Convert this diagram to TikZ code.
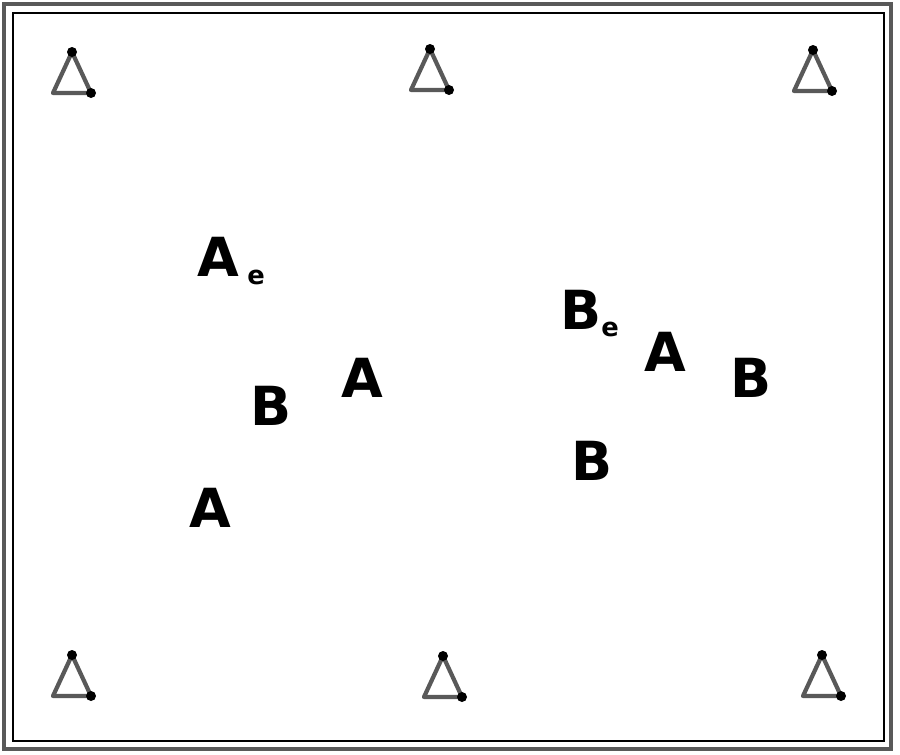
\documentclass[tikz,border=0pt]{standalone}
\usepackage{fontspec}
\setsansfont{DejaVu Sans}
\tikzset{
  letter/.style = {font=\fontsize{46}{46}\sffamily\bfseries, inner sep=0pt},
  small/.style = {font=\fontsize{22}{22}\sffamily\bfseries, inner sep=0pt},
  mark tri/.style = {line width=3.6pt, draw=black!65, line join=round},
}
\newcommand{\marktri}[2]{
  \begin{scope}[shift={(#1,#2)}]
   \draw[mark tri] (0,-21) -- (19,20) -- (-19,20) -- cycle;
   \fill (0,-21) circle (5);
   \fill (19,20) circle (5);
  \end{scope}
}
\begin{document}
\begin{tikzpicture}[x=0.03cm,y=-0.03cm]
   \useasboundingbox (0,0) rectangle (900,754);
   % frame
   \draw[line width=3pt, black!65] (4,4) rectangle (891,749);
   \draw[line width=1.1pt] (13,13) rectangle (884,741);
   % markers
   \foreach \x/\y in {72/73,430/70,813/71,72/676,443/677,822/676}
      \marktri{\x}{\y};
   % left group
   \node[letter] (a1) at (218,257) {A};
   \node[small] (e1) at (256,277) {e};
   \node[letter] (b1) at (271,406) {B};
   \node[letter] (a2) at (362,378) {A};
   \node[letter] (a3) at (210,508) {A};
   % right group
   \node[letter] (b2) at (581,310) {B};
   \node[small] (e2) at (610,329) {e};
   \node[letter] (a4) at (665,352) {A};
   \node[letter] (b3) at (751,378) {B};
   \node[letter] (b4) at (592,461) {B};
\end{tikzpicture}
\end{document}
